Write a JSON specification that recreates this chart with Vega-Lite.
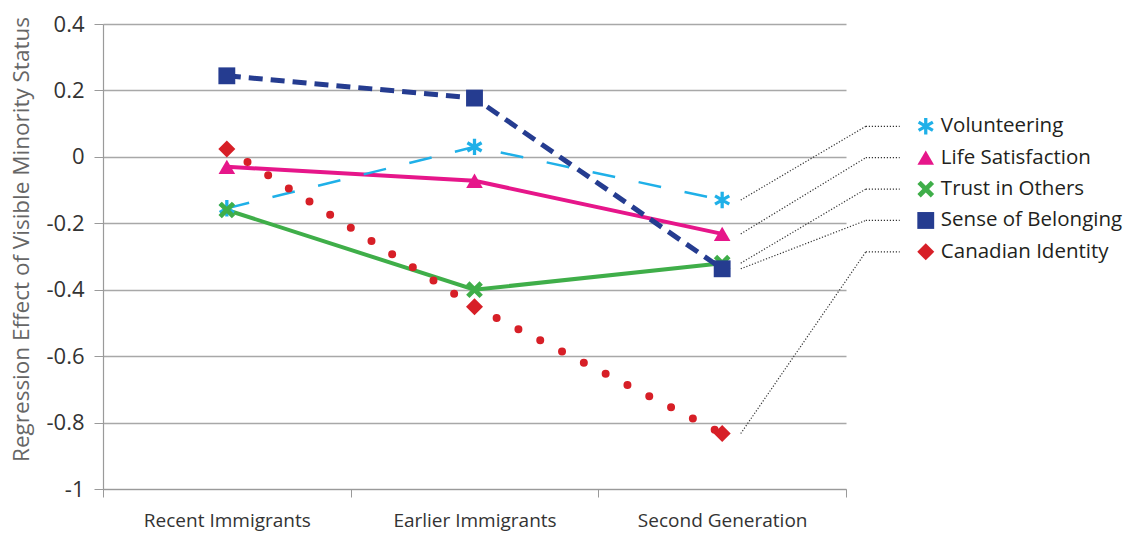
{
  "$schema": "https://vega.github.io/schema/vega-lite/v6.json",
  "width": 743,
  "height": 465,
  "autosize": "none",
  "padding": {"left": 103, "top": 24, "right": 282, "bottom": 45},
  "background": "white",
  "config": {
    "view": {"stroke": null},
    "font": "Open Sans",
    "axis": {"labelFont": "Open Sans", "titleFont": "Open Sans"}
  },
  "data": {
    "values": [
      {"gen": "Recent Immigrants", "series": "Volunteering", "value": -0.155},
      {"gen": "Earlier Immigrants", "series": "Volunteering", "value": 0.03},
      {"gen": "Second Generation", "series": "Volunteering", "value": -0.13},
      {"gen": "Recent Immigrants", "series": "Life Satisfaction", "value": -0.03},
      {"gen": "Earlier Immigrants", "series": "Life Satisfaction", "value": -0.072},
      {"gen": "Second Generation", "series": "Life Satisfaction", "value": -0.232},
      {"gen": "Recent Immigrants", "series": "Trust  in Others", "value": -0.16},
      {"gen": "Earlier Immigrants", "series": "Trust  in Others", "value": -0.4},
      {"gen": "Second Generation", "series": "Trust  in Others", "value": -0.32},
      {"gen": "Recent Immigrants", "series": "Sense of Belonging", "value": 0.244},
      {"gen": "Earlier Immigrants", "series": "Sense of Belonging", "value": 0.177},
      {"gen": "Second Generation", "series": "Sense of Belonging", "value": -0.337},
      {"gen": "Recent Immigrants", "series": "Canadian Identity", "value": 0.024},
      {"gen": "Earlier Immigrants", "series": "Canadian Identity", "value": -0.451},
      {"gen": "Second Generation", "series": "Canadian Identity", "value": -0.833}
    ]
  },
  "encoding": {
    "x": {
      "field": "gen",
      "type": "nominal",
      "sort": null,
      "scale": {
        "domain": ["Recent Immigrants", "Earlier Immigrants", "Second Generation"],
        "paddingInner": 0,
        "paddingOuter": 0
      },
      "axis": {
        "title": null,
        "labelAngle": 0,
        "labelFontSize": 19,
        "labelColor": "#333333",
        "labelPadding": 14,
        "tickBand": "extent",
        "tickSize": 8,
        "tickColor": "#9a9a9a",
        "domainColor": "#9a9a9a",
        "domainWidth": 1.2,
        "grid": false
      }
    },
    "y": {
      "field": "value",
      "type": "quantitative",
      "scale": {"domain": [-1, 0.4], "nice": false, "zero": false},
      "axis": {
        "title": "Regression Effect of Visible Minority Status",
        "titleFontSize": 22.5,
        "titleFontWeight": "normal",
        "titleColor": "#666666",
        "titlePadding": 12,
        "titleY": 215,
        "values": [-1, -0.8, -0.6, -0.4, -0.2, 0, 0.2, 0.4],
        "labelExpr": "'' + round(datum.value * 10) / 10",
        "labelFontSize": 22,
        "labelColor": "#333333",
        "labelPadding": 10,
        "tickSize": 9,
        "tickColor": "#9a9a9a",
        "domainColor": "#9a9a9a",
        "domainWidth": 1.2,
        "grid": true,
        "gridColor": "#a8a8a8",
        "gridWidth": 1.4
      }
    }
  },
  "layer": [
    {
      "transform": [{"filter": "datum.series === 'Trust  in Others'"}],
      "mark": {"type": "line", "color": "#3fae49", "strokeWidth": 4}
    },
    {
      "transform": [{"filter": "datum.series === 'Life Satisfaction'"}],
      "mark": {"type": "line", "color": "#e6168a", "strokeWidth": 4}
    },
    {
      "transform": [{"filter": "datum.series === 'Volunteering'"}],
      "mark": {"type": "line", "color": "#1fb0e8", "strokeWidth": 2.5, "strokeDash": [23, 24]}
    },
    {
      "transform": [{"filter": "datum.series === 'Sense of Belonging'"}],
      "mark": {"type": "line", "color": "#253c90", "strokeWidth": 5, "strokeDash": [14, 8]}
    },
    {
      "transform": [{"filter": "datum.series === 'Canadian Identity'"}],
      "mark": {"type": "line", "color": "#d71f27", "strokeWidth": 8, "strokeDash": [0, 24.5], "strokeCap": "round"}
    },
    {
      "mark": {"type": "point", "filled": true, "opacity": 1, "strokeWidth": 0},
      "encoding": {
        "shape": {
          "field": "series",
          "scale": {
            "domain": ["Volunteering", "Life Satisfaction", "Trust  in Others", "Sense of Belonging", "Canadian Identity"],
            "range": [
              "M-0.2,-1L0.2,-1L0.2,1L-0.2,1ZM0.766,-0.673L0.966,-0.327L-0.766,0.673L-0.966,0.327ZM-0.966,-0.327L-0.766,-0.673L0.966,0.327L0.766,0.673Z",
              "triangle-up",
              "M-1,-0.6L-0.6,-1L0,-0.4L0.6,-1L1,-0.6L0.4,0L1,0.6L0.6,1L0,0.4L-0.6,1L-1,0.6L-0.4,0Z",
              "square",
              "diamond"
            ]
          },
          "legend": null
        },
        "color": {
          "field": "series",
          "scale": {
            "domain": ["Volunteering", "Life Satisfaction", "Trust  in Others", "Sense of Belonging", "Canadian Identity"],
            "range": ["#1fb0e8", "#e6168a", "#3fae49", "#253c90", "#d71f27"]
          },
          "legend": null
        },
        "size": {
          "field": "series",
          "type": "nominal",
          "scale": {
            "domain": ["Volunteering", "Life Satisfaction", "Trust  in Others", "Sense of Belonging", "Canadian Identity"],
            "range": [270, 289, 190, 180, 196]
          },
          "legend": null
        }
      }
    },
    {
      "transform": [
        {"filter": "datum.gen === 'Second Generation'"},
        {"window": [{"op": "row_number", "as": "rank"}]},
        {"calculate": "0.092 - 0.0945 * (datum.rank - 1)", "as": "ly"}
      ],
      "layer": [
        {
          "mark": {"type": "rule", "color": "#333333", "strokeWidth": 1.2, "strokeDash": [1.2, 1.8]},
          "encoding": {
            "x": {"field": "gen", "type": "nominal", "bandPosition": 0.575},
            "y": {"field": "value", "type": "quantitative"},
            "x2": {"field": "gen", "bandPosition": 1.08},
            "y2": {"field": "ly"}
          }
        },
        {
          "mark": {"type": "rule", "color": "#333333", "strokeWidth": 1.2, "strokeDash": [1.2, 1.8]},
          "encoding": {
            "x": {"field": "gen", "type": "nominal", "bandPosition": 1.08},
            "y": {"field": "ly", "type": "quantitative"},
            "x2": {"field": "gen", "bandPosition": 1.217}
          }
        },
        {
          "mark": {"type": "point", "filled": true, "opacity": 1, "strokeWidth": 0},
          "encoding": {
            "x": {"field": "gen", "type": "nominal", "bandPosition": 1.322},
            "y": {"field": "ly", "type": "quantitative"},
            "shape": {"field": "series"},
            "color": {"field": "series"},
            "size": {"field": "series", "type": "nominal"}
          }
        },
        {
          "mark": {"type": "text", "align": "left", "baseline": "middle", "fontSize": 20.5, "fontWeight": 500, "color": "#231f20", "font": "Open Sans"},
          "encoding": {
            "x": {"field": "gen", "type": "nominal", "bandPosition": 1.383},
            "y": {"field": "ly", "type": "quantitative"},
            "text": {"field": "series"}
          }
        }
      ]
    }
  ]
}
